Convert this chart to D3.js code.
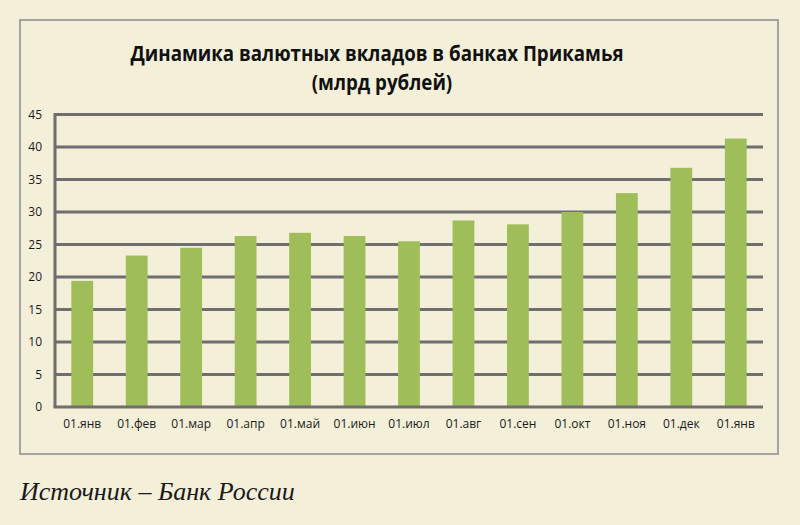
<!DOCTYPE html>
<html>
<head>
<meta charset="utf-8">
<script src="https://cdn.jsdelivr.net/npm/d3@7"></script>
<style>
  html, body { margin: 0; padding: 0; background: #f3efd9; }
  svg { display: block; }
</style>
</head>
<body>
<svg id="chart" width="800" height="525"></svg>
<script>
// данные
const months = ["01.янв", "01.фев", "01.мар", "01.апр", "01.май", "01.июн", "01.июл",
                "01.авг", "01.сен", "01.окт", "01.ноя", "01.дек", "01.янв "];
const deposits = [19.4, 23.3, 24.5, 26.3, 26.8, 26.3, 25.5, 28.7, 28.1, 30.0, 32.9, 36.8, 41.3];
const yTicks = [0, 5, 10, 15, 20, 25, 30, 35, 40, 45];
const titleLines = ["Динамика валютных вкладов в банках Прикамья", "(млрд рублей)"];
const source = "Источник – Банк России";

const svg = d3.select("#chart");

// рамка диаграммы
svg.append("rect")
  .attr("x", 20).attr("y", 20)
  .attr("width", 758).attr("height", 434)
  .attr("fill", "#f3efd9")
  .attr("stroke", "#a3a3a3")
  .attr("stroke-width", 2);

const plot = { left: 55, right: 763, top: 114.5, bottom: 407 };

const x = d3.scaleBand()
  .domain(months)
  .range([plot.left, plot.right])
  .paddingInner(0.6)
  .paddingOuter(0.3);

const y = d3.scaleLinear()
  .domain([0, 45])
  .range([plot.bottom, plot.top]);

// сетка
svg.append("g")
  .selectAll("line")
  .data(yTicks.filter(d => d > 0))
  .join("line")
  .attr("x1", plot.left).attr("x2", plot.right)
  .attr("y1", d => y(d)).attr("y2", d => y(d))
  .attr("stroke", "#6f6f6f")
  .attr("stroke-width", 3);

// столбцы
svg.append("g")
  .selectAll("rect")
  .data(deposits)
  .join("rect")
  .attr("x", (d, i) => x(months[i]))
  .attr("width", x.bandwidth())
  .attr("y", d => y(d))
  .attr("height", d => y(0) - y(d))
  .attr("fill", "#9fbd59");

// оси
const yAxis = svg.append("g")
  .attr("transform", `translate(${plot.left},0)`)
  .call(d3.axisLeft(y).tickValues(yTicks).tickSize(0).tickPadding(13));
yAxis.select(".domain").attr("stroke", "#6f6f6f").attr("stroke-width", 3)
  .attr("d", `M0,${plot.top - 1.5}V${plot.bottom}`);
yAxis.selectAll("text")
  .attr("font-family", "'Open Sans', sans-serif")
  .attr("font-size", 12)
  .attr("fill", "#1a1a1a");

const xAxis = svg.append("g")
  .attr("transform", `translate(0,${plot.bottom})`)
  .call(d3.axisBottom(x).tickSize(0).tickPadding(12));
xAxis.select(".domain").attr("stroke", "#6f6f6f").attr("stroke-width", 3)
  .attr("d", `M${plot.left - 1.5},0H${plot.right}`);
xAxis.selectAll("text")
  .attr("font-family", "'Open Sans', sans-serif")
  .attr("font-size", 12)
  .attr("fill", "#1a1a1a");

// заголовок (сжат по ширине, как Calibri в оригинале)
const title = svg.append("g")
  .selectAll("text")
  .data(titleLines)
  .join("text")
  .attr("x", (d, i) => i === 0 ? 377 : 382)
  .attr("y", (d, i) => 61 + i * 29)
  .attr("text-anchor", "middle")
  .attr("font-family", "'Open Sans', sans-serif")
  .attr("font-weight", "bold")
  .attr("font-size", 21)
  .attr("fill", "#111")
  .text(d => d);
const squeeze = 493 / title.node().getComputedTextLength();
title.each(function () {
  const t = d3.select(this);
  t.attr("textLength", this.getComputedTextLength() * squeeze)
   .attr("lengthAdjust", "spacingAndGlyphs");
});

// источник
svg.append("text")
  .attr("x", 20)
  .attr("y", 500)
  .attr("font-family", "'Liberation Serif', serif")
  .attr("font-style", "italic")
  .attr("font-size", 26)
  .attr("fill", "#1a1a1a")
  .text(source);
</script>
</body>
</html>
